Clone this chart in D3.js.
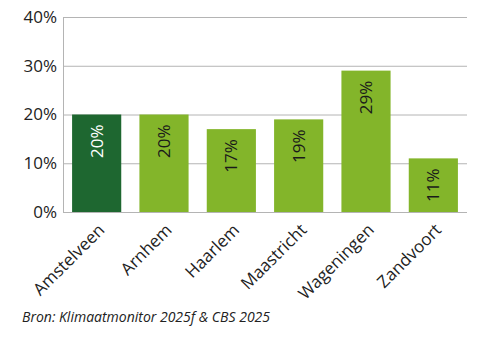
<!DOCTYPE html>
<html><head><meta charset="utf-8">
<script src="https://cdn.jsdelivr.net/npm/d3@7"></script>
<style>body{margin:0;background:#fff}svg{display:block}text{font-family:"Open Sans",sans-serif}</style>
</head><body><svg id="c" width="481" height="346"></svg>
<script>
const categories = ["Amstelveen","Arnhem","Haarlem","Maastricht","Wageningen","Zandvoort"];
const values = [20,20,17,19,29,11];
const yTicks = [0,10,20,30,40];
const highlight = "Amstelveen";
const source = "Bron: Klimaatmonitor 2025f & CBS 2025";

const svg = d3.select("#c");
const m = {l:63, r:467, t:17, b:212};
const x = d3.scaleBand().domain(categories).range([m.l, m.r]).paddingInner(0.27).paddingOuter(0.135);
const y = d3.scaleLinear().domain([0,40]).range([m.b, m.t]);

// gridlines
svg.append("g").selectAll("line").data(yTicks).join("line")
  .attr("x1", m.l).attr("x2", m.r)
  .attr("y1", d=>y(d)+0.5).attr("y2", d=>y(d)+0.5)
  .attr("stroke", "#b4b4b4").attr("stroke-width", 1);
svg.append("line").attr("x1", m.l+0.5).attr("x2", m.l+0.5).attr("y1", m.t).attr("y2", m.b+0.5)
  .attr("stroke", "#b4b4b4");

// y axis labels
const ya = svg.append("g").attr("transform", `translate(${m.l},0)`)
  .call(d3.axisLeft(y).tickValues(yTicks).tickFormat(d=>d+"%").tickSize(0).tickPadding(6));
ya.select(".domain").remove();
ya.selectAll("text").attr("font-size", 17).attr("fill", "#222").attr("font-family", '"Open Sans",sans-serif');

// bars
svg.append("g").selectAll("rect").data(categories).join("rect")
  .attr("x", d=>x(d)).attr("width", x.bandwidth())
  .attr("y", (d,i)=>y(values[i])).attr("height", (d,i)=>y(0)-y(values[i]))
  .attr("fill", d=> d===highlight ? "#1e6730" : "#83b52a");

// bar labels
svg.append("g").selectAll("text").data(categories).join("text")
  .attr("transform", (d,i)=>`translate(${x(d)+x.bandwidth()/2},${y(values[i])+10}) rotate(-90)`)
  .attr("text-anchor", "end").attr("dy", "0.36em")
  .attr("font-size", 17)
  .attr("fill", d=> d===highlight ? "#fff" : "#1a1a1a")
  .text((d,i)=>values[i]+"%");

// x axis labels
const xa = svg.append("g").attr("transform", `translate(0,${m.b})`)
  .call(d3.axisBottom(x).tickSize(0).tickPadding(0));
xa.select(".domain").remove();
xa.selectAll("text").attr("font-size", 17).attr("fill", "#222").attr("font-family", '"Open Sans",sans-serif')
  .attr("text-anchor", "end").attr("dy", null).attr("y", null)
  .attr("transform", "translate(9,19) rotate(-45)");

// source
svg.append("text").attr("x", 22).attr("y", 322).attr("font-size", 14).attr("font-style", "italic")
  .attr("fill", "#222").text(source);
</script></body></html>
